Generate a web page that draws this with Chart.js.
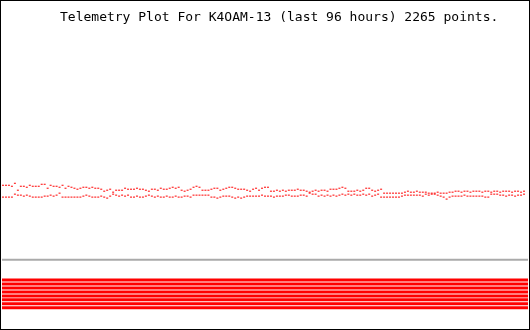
<!DOCTYPE html>
<html>
<head>
<meta charset="utf-8">
<title>Telemetry Plot</title>
<script src="https://cdn.jsdelivr.net/npm/chart.js@4"></script>
<style>
  body { margin: 0; background: #fff; }
  canvas { display: block; }
</style>
</head>
<body>
<canvas id="telemetryChart" width="530" height="330"></canvas>
<script>
// Telemetry plot, last 96 hours, no axes drawn

const plotTitle = 'Telemetry Plot For K4OAM-13 (last 96 hours) 2265 points.';

// Upper channel (volts)
const upperVolts = [
  14.4, 14.4, 14.4, 14.3, 14.6, 13.9, 14.3, 14.3, 14.2, 14.4,
  14.3, 14.3, 14.3, 14.5, 14.5, 14.1, 14.4, 14.3, 14.3, 14.2,
  14.4, 14.1, 14.3, 14.2, 14.1, 14.0, 14.1, 14.2, 14.2, 14.1,
  14.2, 14.1, 14.1, 14.0, 13.8, 13.9, 14.0, 13.7, 13.9, 13.9,
  13.9, 14.1, 14.0, 14.0, 14.0, 14.1, 14.0, 14.0, 13.9, 13.8,
  14.0, 14.0, 13.9, 14.1, 14.0, 14.0, 14.1, 14.2, 14.1, 14.2,
  13.9, 13.8, 13.9, 14.0, 14.2, 14.3, 14.2, 13.9, 13.9, 13.9,
  14.0, 14.1, 14.1, 13.9, 14.0, 14.1, 14.2, 14.2, 14.1, 14.0,
  14.0, 14.0, 13.9, 13.8, 14.0, 14.1, 13.9, 14.1, 14.2, 14.2,
  13.8, 13.8, 13.9, 13.8, 13.9, 13.8, 13.9, 13.9, 13.9, 14.0,
  13.9, 13.9, 13.8, 13.7, 13.8, 13.9, 13.8, 13.9, 13.9, 13.8,
  14.0, 14.0, 14.0, 14.1, 14.2, 14.1, 13.8, 13.8, 13.8, 13.9,
  13.8, 13.9, 14.1, 14.1, 13.9, 13.8, 13.9, 14.0, 13.6, 13.6,
  13.6, 13.6, 13.6, 13.6, 13.6, 13.7, 13.8, 13.7, 13.7, 13.8,
  13.7, 13.7, 13.7, 13.6, 13.6, 13.6, 13.7, 13.6, 13.6, 13.6,
  13.7, 13.7, 13.8, 13.8, 13.7, 13.8, 13.8, 13.7, 13.8, 13.8,
  13.8, 13.7, 13.8, 13.8, 13.7, 13.8, 13.8, 13.7, 13.8, 13.8,
  13.8, 13.7, 13.8, 13.8, 13.7, 13.8
];

// Lower channel (volts)
const lowerVolts = [
  13.2, 13.2, 13.2, 13.2, 13.5, 13.4, 13.4, 13.3, 13.4, 13.3,
  13.2, 13.2, 13.2, 13.2, 13.3, 13.3, 13.4, 13.3, 13.4, 13.6,
  13.2, 13.2, 13.2, 13.2, 13.2, 13.2, 13.2, 13.3, 13.4, 13.3,
  13.2, 13.2, 13.2, 13.3, 13.2, 13.1, 13.3, 13.5, 13.4, 13.3,
  13.4, 13.3, 13.4, 13.2, 13.2, 13.3, 13.2, 13.2, 13.3, 13.4,
  13.3, 13.2, 13.3, 13.2, 13.2, 13.3, 13.2, 13.2, 13.3, 13.2,
  13.2, 13.3, 13.3, 13.2, 13.4, 13.4, 13.4, 13.4, 13.4, 13.4,
  13.2, 13.2, 13.1, 13.2, 13.3, 13.3, 13.3, 13.2, 13.1, 13.2,
  13.1, 13.2, 13.3, 13.3, 13.3, 13.3, 13.3, 13.4, 13.3, 13.3,
  13.3, 13.2, 13.3, 13.3, 13.3, 13.4, 13.4, 13.3, 13.3, 13.3,
  13.4, 13.4, 13.3, 13.6, 13.5, 13.5, 13.3, 13.4, 13.3, 13.4,
  13.3, 13.4, 13.3, 13.4, 13.5, 13.4, 13.5, 13.4, 13.5, 13.4,
  13.4, 13.5, 13.4, 13.5, 13.3, 13.4, 13.5, 13.2, 13.2, 13.2,
  13.2, 13.2, 13.2, 13.2, 13.3, 13.4, 13.4, 13.4, 13.4, 13.4,
  13.4, 13.3, 13.5, 13.4, 13.5, 13.5, 13.4, 13.3, 13.2, 13.0,
  13.2, 13.3, 13.3, 13.3, 13.3, 13.4, 13.3, 13.3, 13.3, 13.3,
  13.3, 13.3, 13.2, 13.2, 13.5, 13.5, 13.5, 13.4, 13.4, 13.3,
  13.4, 13.4, 13.3, 13.4, 13.4, 13.5
];

// Flat channels
const grayLevel = 6.85;
const bandLevels = [4.8, 4.4, 4.0, 3.6, 3.2, 2.8, 2.4, 2.0];

// Sample window (one sample per 3 px of plot width)
const sampleMin = -1 / 3;
const sampleMax = 530 / 3 - 1 / 3;

const toPoints = arr => arr.map((v, i) => ({ x: i, y: v }));

const dotSeries = (data) => ({
  data: toPoints(data),
  showLine: false,
  pointStyle: 'line',
  pointRadius: 1,
  pointHoverRadius: 1,
  pointBorderWidth: 1,
  pointBorderColor: '#ff0000',
  borderColor: '#ff0000'
});

const flatSeries = (v, color, width) => ({
  data: [{ x: sampleMin, y: v }, { x: sampleMax, y: v }],
  borderColor: color,
  borderWidth: width,
  pointRadius: 0,
  fill: false
});

// Title and frame drawn straight on the canvas
const framePlugin = {
  id: 'frame',
  beforeDraw(chart) {
    const ctx = chart.ctx;
    ctx.save();
    ctx.fillStyle = '#ffffff';
    ctx.fillRect(0, 0, chart.width, chart.height);
    ctx.restore();
  },
  afterDraw(chart) {
    const ctx = chart.ctx;
    ctx.save();
    ctx.strokeStyle = '#000000';
    ctx.lineWidth = 1;
    ctx.strokeRect(0.5, 0.5, chart.width - 1, chart.height - 1);
    ctx.fillStyle = '#000000';
    ctx.font = '13px "DejaVu Sans Mono", monospace';
    ctx.textBaseline = 'alphabetic';
    ctx.fillText(plotTitle, 60, 21);
    ctx.restore();
  }
};

const ctx = document.getElementById('telemetryChart').getContext('2d');
new Chart(ctx, {
  type: 'line',
  data: {
    datasets: [
      flatSeries(grayLevel, '#aaaaaa', 2),
      ...bandLevels.map(v => flatSeries(v, '#ff0000', 3)),
      dotSeries(upperVolts),
      dotSeries(lowerVolts)
    ]
  },
  options: {
    responsive: false,
    animation: false,
    devicePixelRatio: 1,
    layout: { padding: 0 },
    plugins: {
      legend: { display: false },
      tooltip: { enabled: false }
    },
    events: [],
    scales: {
      x: { type: 'linear', display: false, min: sampleMin, max: sampleMax },
      y: { display: false, min: -0.05, max: 32.95 }
    }
  },
  plugins: [framePlugin]
});
</script>
</body>
</html>
